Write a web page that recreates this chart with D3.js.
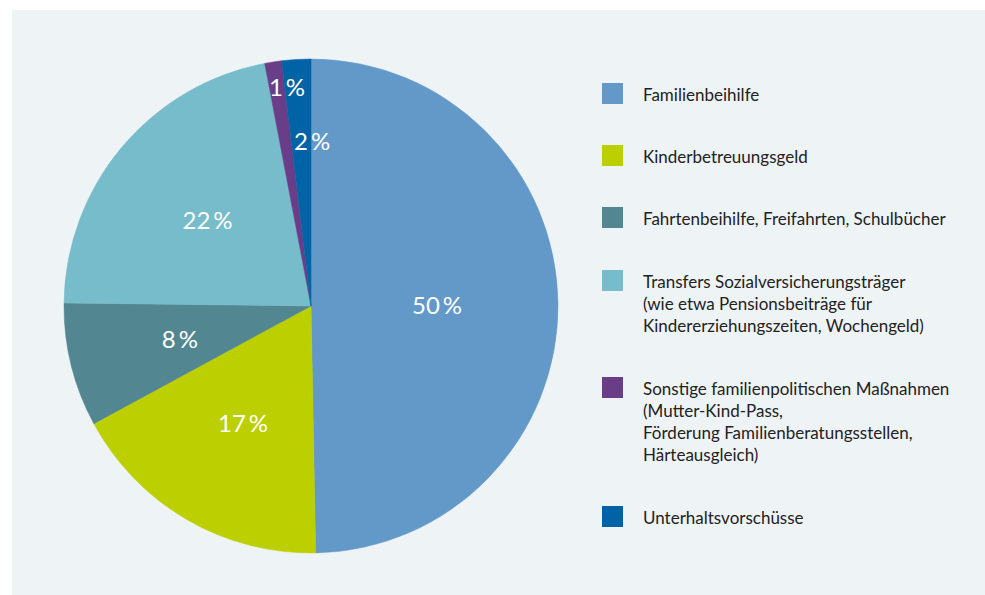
<!DOCTYPE html>
<html>
<head>
<meta charset="utf-8">
<script src="https://cdn.jsdelivr.net/npm/d3@7"></script>
<style>
  body { margin: 0; background: #fff; }
  svg { display: block; font-family: Lato, "Noto Sans", sans-serif; }
</style>
</head>
<body>
<div class="chart"></div>
<script>
// shares in percent, clockwise from 12 o'clock
const categories = [
    'Familienbeihilfe',
    'Kinderbetreuungsgeld',
    'Fahrtenbeihilfe, Freifahrten, Schulbücher',
    'Transfers Sozialversicherungsträger (wie etwa Pensionsbeiträge für Kindererziehungszeiten, Wochengeld)',
    'Sonstige familienpolitischen Maßnahmen (Mutter-Kind-Pass, Förderung Familienberatungsstellen, Härteausgleich)',
    'Unterhaltsvorschüsse'
];
const legendLines = [
    ['Familienbeihilfe'],
    ['Kinderbetreuungsgeld'],
    ['Fahrtenbeihilfe, Freifahrten, Schulbücher'],
    ['Transfers Sozialversicherungsträger', '(wie etwa Pensionsbeiträge für', 'Kindererziehungszeiten, Wochengeld)'],
    ['Sonstige familienpolitischen Maßnahmen', '(Mutter-Kind-Pass,', 'Förderung Familienberatungsstellen,', 'Härteausgleich)'],
    ['Unterhaltsvorschüsse']
];
const values = [49.7, 17.4, 8.1, 21.8, 1.1, 1.9];
const colors = ['#6399c8', '#bccf00', '#528690', '#77bcca', '#6a3d88', '#0063a6'];

const width = 985, height = 595;
const cx = 311, cy = 306, radius = 247;

const svg = d3.select('.chart').append('svg')
    .attr('width', width)
    .attr('height', height);

// panel
svg.append('rect')
    .attr('x', 12).attr('y', 10)
    .attr('width', width - 12).attr('height', height - 10)
    .attr('fill', '#eef3f6');

const data = categories.map((c, i) => ({name: c, value: values[i], color: colors[i], lines: legendLines[i]}));

const pie = d3.pie().sort(null).value(d => d.value);
const arcs = pie(data);
const arc = d3.arc().innerRadius(0).outerRadius(radius);

const g = svg.append('g').attr('transform', `translate(${cx},${cy})`);

g.selectAll('.slice')
    .data(arcs)
    .enter()
    .append('path')
    .attr('class', 'slice')
    .attr('d', arc)
    .attr('fill', d => d.data.color)
    .attr('stroke', d => d.data.color)
    .attr('stroke-width', 0.5);

// label radius: inner ring for big slices, pushed out for the thin ones
const labelR = d => d.data.value < 1.5 ? 222 : d.data.value < 3 ? 166 : d.data.value > 40 ? 126 : 135;
g.selectAll('.pct')
    .data(arcs)
    .enter()
    .append('text')
    .attr('class', 'pct')
    .attr('transform', d => {
        const a = (d.startAngle + d.endAngle) / 2;
        const r = labelR(d);
        let x = Math.sin(a) * r, y = -Math.cos(a) * r;
        if (d.data.value < 3) x += d.data.value < 1.5 ? 10 : 11;
        return `translate(${x},${y})`;
    })
    .attr('text-anchor', 'middle')
    .attr('dominant-baseline', 'central')
    .attr('fill', '#fff')
    .attr('font-size', 24)
    .attr('font-weight', 400)
    .text(d => Math.round(d.data.value) + '\u2009%');

// legend
const legendTop = [83, 145, 207, 270, 377, 506];
const legend = svg.append('g');
const item = legend.selectAll('.item')
    .data(data)
    .enter()
    .append('g')
    .attr('class', 'item')
    .attr('transform', (d, i) => `translate(602,${legendTop[i]})`);

item.append('rect')
    .attr('width', 21)
    .attr('height', 21)
    .attr('fill', d => d.color);

item.append('text')
    .attr('font-size', 17)
    .attr('fill', '#222')
    .selectAll('tspan')
    .data(d => d.lines)
    .enter()
    .append('tspan')
    .attr('x', 41)
    .attr('y', (l, j) => 18 + j * 22)
    .text(l => l);
</script>
</body>
</html>
